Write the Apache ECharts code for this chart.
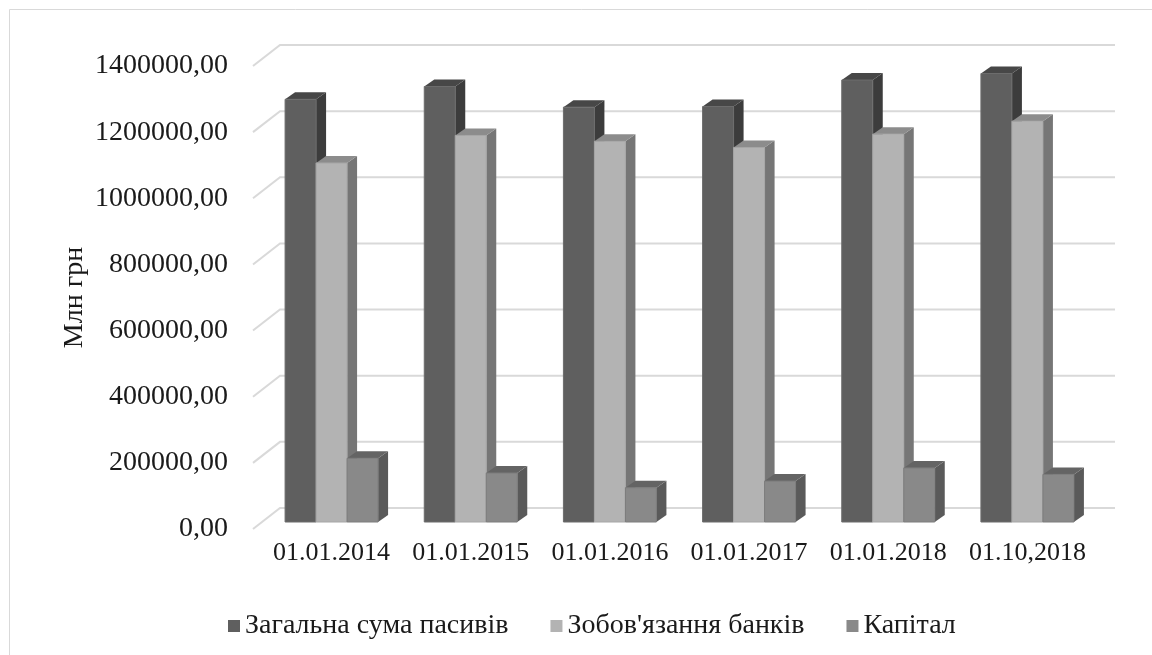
<!DOCTYPE html>
<html>
<head>
<meta charset="utf-8">
<script src="https://cdn.jsdelivr.net/npm/echarts@6/dist/echarts.min.js"></script>
<style>
  html, body { margin: 0; padding: 0; background: #fff; }
  #chart { width: 1152px; height: 655px; }
</style>
</head>
<body>
<div id="chart"></div>
<script>
// Banking system liabilities, mln UAH
const categories = ['01.01.2014', '01.01.2015', '01.01.2016', '01.01.2017', '01.01.2018', '01.10,2018'];
const totalLiabilities = [1278095, 1316852, 1254385, 1256299, 1336358, 1356000];
const bankObligations = [1085496, 1168829, 1151012, 1132515, 1172833, 1212000];
const capital = [192599, 148023, 103700, 123784, 163525, 144000];
const yTicks = [0, 200000, 400000, 600000, 800000, 1000000, 1200000, 1400000];
const seriesNames = ['Загальна сума пасивів', "Зобов'язання банків", 'Капітал'];

const FONT = '"Liberation Serif", "Times New Roman", serif';
const TEXT = '#1a1a1a';
const BAR_W = 31;            // width of one bar face
const DEPTH = [10, -7];      // bar depth projection
const FRONT = [-9, 7];       // front edge of the floor relative to bar plane
const BACK = [18, -14];      // back wall relative to bar plane

const shades = [
  { front: '#5f5f5f', top: '#474747', side: '#3c3c3c', edge: '#6c6c6c' },
  { front: '#b3b3b3', top: '#8c8c8c', side: '#767676', edge: '#a6a6a6' },
  { front: '#898989', top: '#646464', side: '#5a5a5a', edge: '#7c7c7c' }
];

function barRenderer(k) {
  const s = shades[k];
  return function (params, api) {
    const cat = api.value(0);
    const v = api.value(1);
    const base = api.coord([cat, 0]);
    const top = api.coord([cat, v]);
    const x0 = base[0] - 1.5 * BAR_W + k * BAR_W;
    const x1 = x0 + BAR_W;
    const dx = DEPTH[0], dy = DEPTH[1];
    return {
      type: 'group',
      children: [
        { type: 'polygon',
          shape: { points: [[x1, top[1]], [x1 + dx, top[1] + dy], [x1 + dx, base[1] + dy], [x1, base[1]]] },
          style: { fill: s.side } },
        { type: 'polygon',
          shape: { points: [[x0, top[1]], [x0 + dx, top[1] + dy], [x1 + dx, top[1] + dy], [x1, top[1]]] },
          style: { fill: s.top } },
        { type: 'rect',
          shape: { x: x0, y: top[1], width: BAR_W, height: base[1] - top[1] },
          style: { fill: s.front, stroke: s.edge, lineWidth: 1 } }
      ]
    };
  };
}

// floor edge + back wall line for each tick value
function gridRenderer(params, api) {
  const cs = params.coordSys;
  const y = api.coord([0, api.value(0)])[1];
  return {
    type: 'polyline',
    shape: { points: [
      [cs.x + FRONT[0], y + FRONT[1]],
      [cs.x + BACK[0], y + BACK[1]],
      [cs.x + cs.width + BACK[0], y + BACK[1]]
    ] },
    style: { stroke: '#d9d9d9', lineWidth: 2, fill: null }
  };
}

const valueSets = [totalLiabilities, bankObligations, capital];

const chart = echarts.init(document.getElementById('chart'), null, { renderer: 'canvas' });
chart.setOption({
  animation: false,
  backgroundColor: '#fff',
  graphic: [{
    type: 'rect',
    shape: { x: 9.5, y: 9.5, width: 1300, height: 800 },
    style: { fill: null, stroke: '#d9d9d9', lineWidth: 1 },
    silent: true
  }],
  grid: [
    // plane the bars stand on
    { left: 262, right: 55, top: 59, bottom: 133 },
    // front edge of the chart floor, carries the value labels
    { left: 253, right: 64, top: 66, bottom: 126 }
  ],
  legend: {
    data: seriesNames,
    left: 223,
    top: 607,
    icon: 'rect',
    itemWidth: 12,
    itemHeight: 12,
    itemGap: 42,
    textStyle: { fontFamily: FONT, fontSize: 28, color: TEXT }
  },
  xAxis: [
    {
      type: 'category',
      gridIndex: 0,
      data: categories,
      axisLine: { show: false },
      axisTick: { show: false },
      splitLine: { show: false },
      axisLabel: { fontFamily: FONT, fontSize: 26, color: TEXT, margin: 18, interval: 0 }
    },
    {
      type: 'category',
      gridIndex: 1,
      data: categories,
      show: false
    }
  ],
  yAxis: [
    {
      type: 'value',
      gridIndex: 0,
      min: 0,
      max: 1400000,
      interval: 200000,
      show: false,
      splitLine: { show: false }
    },
    {
      type: 'value',
      gridIndex: 1,
      min: 0,
      max: 1400000,
      interval: 200000,
      name: 'Млн грн',
      nameLocation: 'middle',
      nameGap: 164,
      nameMoveOverlap: false,
      nameTextStyle: { fontFamily: FONT, fontSize: 28, color: TEXT },
      axisLine: { show: false },
      axisTick: { show: false },
      splitLine: { show: false },
      axisLabel: {
        fontFamily: FONT, fontSize: 28, color: TEXT, margin: 25,
        formatter: v => v.toFixed(2).replace('.', ',')
      }
    }
  ],
  series: [
    {
      type: 'custom',
      name: 'grid',
      silent: true,
      z: 1,
      xAxisIndex: 0,
      yAxisIndex: 0,
      renderItem: gridRenderer,
      data: yTicks.map(v => [v]),
      encode: { y: 0 }
    }
  ].concat(seriesNames.map((name, k) => ({
    type: 'custom',
    name: name,
    z: 2 + k,
    xAxisIndex: 0,
    yAxisIndex: 0,
    itemStyle: { color: shades[k].front },
    renderItem: barRenderer(k),
    data: valueSets[k].map((v, i) => [i, v]),
    encode: { x: 0, y: 1 }
  })))
});
</script>
</body>
</html>
